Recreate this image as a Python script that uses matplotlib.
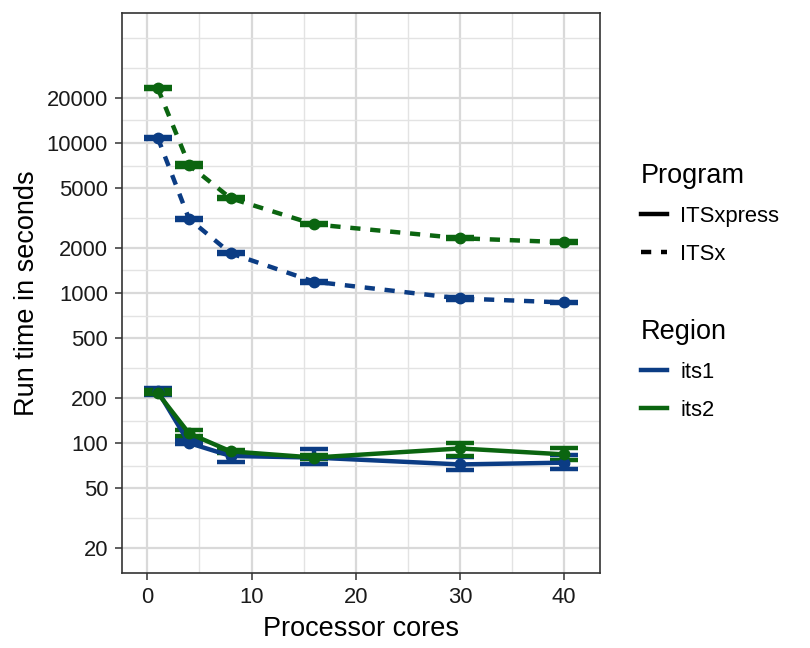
import numpy as np
import matplotlib.pyplot as plt
from matplotlib.lines import Line2D

plt.rcParams['font.family'] = ['Liberation Sans', 'DejaVu Sans']

# ---------------------------------------------------------------------------
# Data (run time in seconds)
# ---------------------------------------------------------------------------
cores = [1, 4, 8, 16, 30, 40]

itsx_its1 = [10840, 3120, 1840, 1190, 920, 865]
itsx_its1_lo = [10650, 3060, 1810, 1170, 905, 852]
itsx_its1_hi = [11030, 3180, 1870, 1210, 935, 878]
itsx_its2 = [23200, 7130, 4280, 2870, 2320, 2180]
itsx_its2_lo = [22800, 6880, 4210, 2825, 2285, 2150]
itsx_its2_hi = [23600, 7380, 4350, 2915, 2355, 2210]

itsxpress_its1 = [222, 100, 82, 80, 72, 74]
itsxpress_its1_lo = [209, 98, 75, 72, 66, 67]
itsxpress_its1_hi = [233, 105, 89, 91, 81, 83]
itsxpress_its2 = [215, 116, 88, 80, 92, 84]
itsxpress_its2_lo = [212, 111, 86, 78, 82, 77]
itsxpress_its2_hi = [226, 122, 90, 83, 100, 92]

y_breaks = [20, 50, 100, 200, 500, 1000, 2000, 5000, 10000, 20000]

blue = "#0b3c84"
green = "#0b6510"
lw = 3.2
dash = (0, (2.3, 2.2))
half_w = 1.35   # half width of the error bar caps, in cores

# ---------------------------------------------------------------------------
# Plot
# ---------------------------------------------------------------------------
fig = plt.figure(figsize=(8.1, 6.48), dpi=100)
ax = fig.add_axes([122 / 810, 1 - 573 / 648, (600 - 122) / 810, (573 - 13) / 648])

series = [
    (itsx_its1, itsx_its1_lo, itsx_its1_hi, blue, dash),
    (itsx_its2, itsx_its2_lo, itsx_its2_hi, green, dash),
    (itsxpress_its1, itsxpress_its1_lo, itsxpress_its1_hi, blue, "-"),
    (itsxpress_its2, itsxpress_its2_lo, itsxpress_its2_hi, green, "-"),
]

x = np.array(cores, dtype=float)
for y, lo, hi, col, ls in series:
    ax.vlines(x, lo, hi, color=col, lw=lw, zorder=3)
    ax.hlines(lo, x - half_w, x + half_w, color=col, lw=lw, zorder=3)
    ax.hlines(hi, x - half_w, x + half_w, color=col, lw=lw, zorder=3)
for y, lo, hi, col, ls in series:
    ax.plot(x, y, color=col, lw=lw, linestyle=ls, dash_capstyle="butt",
            marker="o", markersize=7.5, zorder=4)

ax.set_yscale("log")
ax.set_xlim(-2.43, 43.43)
ax.set_ylim(13.6, 73600)

ax.set_xticks([0, 10, 20, 30, 40])
ax.set_xticks([5, 15, 25, 35], minor=True)
ax.set_yticks(y_breaks)
ax.set_yticklabels([str(b) for b in y_breaks])
ax.set_yticks([31.6, 70.7, 141, 316, 707, 1414, 3162, 7071, 14142,
               10 ** 4.5, 10 ** 4.7], minor=True)
ax.yaxis.set_minor_formatter(plt.NullFormatter())

ax.grid(True, which="major", color="#d9d9d9", lw=1.6, zorder=0)
ax.grid(True, which="minor", color="#e3e3e3", lw=1.0, zorder=0)
ax.set_axisbelow(True)
ax.tick_params(which="major", length=5, width=1.1, color="#333333",
               labelsize=15.8, labelcolor="#1a1a1a", pad=5)
ax.tick_params(which="minor", length=0)
for s in ax.spines.values():
    s.set_color("#333333")
    s.set_linewidth(1.2)

ax.set_xlabel("Processor cores", fontsize=19.5, labelpad=6)
ax.set_ylabel("Run time in seconds", fontsize=19.5, labelpad=5)

# Legends
leg_kw = dict(loc="upper left", frameon=False, fontsize=15.8, title_fontsize=19.5,
              handlelength=1.2, handletextpad=0.6, labelspacing=0.78,
              alignment="left")
prog_handles = [Line2D([], [], color="black", lw=lw),
                Line2D([], [], color="black", lw=lw, linestyle=dash, dash_capstyle="butt")]
leg1 = fig.legend(prog_handles, ["ITSxpress", "ITSx"], title="Program",
                  bbox_to_anchor=(621 / 810, 1 - 143 / 648), **leg_kw)
reg_handles = [Line2D([], [], color=blue, lw=lw),
               Line2D([], [], color=green, lw=lw)]
leg2 = fig.legend(reg_handles, ["its1", "its2"], title="Region",
                  bbox_to_anchor=(621 / 810, 1 - 299 / 648), **leg_kw)

plt.savefig("out.png", dpi=100)
